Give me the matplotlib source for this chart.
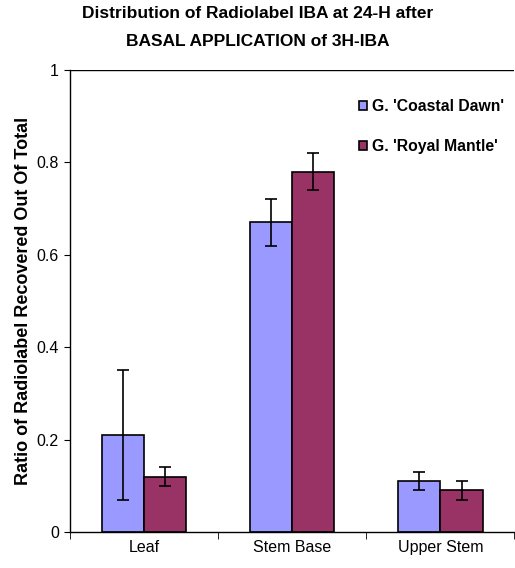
import matplotlib
matplotlib.use("Agg")
import matplotlib.pyplot as plt
import numpy as np

categories = ["Leaf", "Stem Base", "Upper Stem"]
series_names = ["G. 'Coastal Dawn'", "G. 'Royal Mantle'"]
coastal = [0.21, 0.67, 0.11]
coastal_err = [0.14, 0.05, 0.02]
royal = [0.12, 0.78, 0.09]
royal_err = [0.02, 0.04, 0.02]
yticks = [0, 0.2, 0.4, 0.6, 0.8, 1]
ytick_labels = ["0", "0.2", "0.4", "0.6", "0.8", "1"]

plt.rcParams['font.family'] = ['Liberation Sans', 'DejaVu Sans']

fig = plt.figure(figsize=(5.15, 5.68), dpi=100)
ax = fig.add_axes([70/515, 1 - 532/568, 1 - 70/515 - 0.001, (532 - 70)/568])

x = np.arange(len(categories))
w = 0.285
c1 = "#9999FF"
c2 = "#993366"
ax.bar(x - w/2, coastal, w, color=c1, edgecolor="black", linewidth=1.2, label=series_names[0], zorder=2)
ax.bar(x + w/2, royal, w, color=c2, edgecolor="black", linewidth=1.2, label=series_names[1], zorder=2)
ax.errorbar(x - w/2, coastal, yerr=coastal_err, fmt="none", ecolor="black", elinewidth=1.2, capsize=4, capthick=1.2, zorder=3)
ax.errorbar(x + w/2, royal, yerr=royal_err, fmt="none", ecolor="black", elinewidth=1.2, capsize=4, capthick=1.2, zorder=3)

ax.set_xlim(-0.5, 2.5)
ax.set_ylim(0, 1)
ax.axhline(1, color="black", linewidth=1, zorder=1)
ax.set_yticks(yticks)
ax.set_yticklabels(ytick_labels, fontsize=11.5)
ax.set_xticks(x)
ax.set_xticklabels(categories, fontsize=11.5)
ax.tick_params(axis="x", length=0, pad=6)
ax.set_xticks([-0.5, 0.5, 1.5, 2.5], minor=True)
ax.tick_params(axis="x", which="minor", length=5, direction="out")
ax.tick_params(axis="y", length=4, direction="out", pad=4)
for s in ["top", "right"]:
    ax.spines[s].set_visible(False)
ax.spines["left"].set_linewidth(1)
ax.spines["bottom"].set_linewidth(1)

ax.set_ylabel("Ratio of Radiolabel Recovered Out Of Total", fontsize=13, fontweight="bold", labelpad=3)

fig.text(0.5, 1 - 14/568, "Distribution of Radiolabel IBA at 24-H after", ha="center", va="center",
         fontsize=12.5, fontweight="bold")
fig.text(0.5, 1 - 41/568, "BASAL APPLICATION of 3H-IBA", ha="center", va="center",
         fontsize=12.5, fontweight="bold")

leg = ax.legend(loc="upper left", bbox_to_anchor=(359/515, 1 - 99/568), bbox_transform=fig.transFigure,
                frameon=False, prop={"weight": "bold", "size": 11.3},
                handlelength=0.5, handleheight=0.5, handletextpad=0.3, labelspacing=1.6,
                borderpad=0, borderaxespad=0)

fig.savefig("out.png", dpi=100)
